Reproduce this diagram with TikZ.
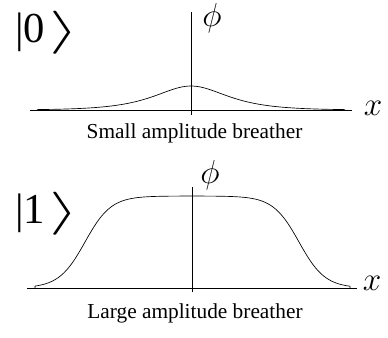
\documentclass[tikz,border=0pt]{standalone}
\usepackage{fontspec}
\setmainfont{Liberation Serif}
\usetikzlibrary{positioning}

\newcommand{\ketclose}{\hspace{3pt}\raisebox{-1pt}{\scalebox{2.3}[1.3]{$\rangle$}}}

\begin{document}
\begin{tikzpicture}[
  x=0.75pt,y=-0.75pt,
  axis/.style={line width=0.6pt},
  wave/.style={line width=0.5pt},
  ket/.style={font=\fontsize{32}{38}\selectfont,anchor=base west,inner sep=0},
  axlabel/.style={font=\fontsize{33}{40}\selectfont,inner sep=0},
  caption/.style={font=\fontsize{16}{19}\selectfont,anchor=base,inner sep=0},
  declare function={kink(\u)=tanh(max(-5,min(5,\u)));},
]
\useasboundingbox (0,0) rectangle (388,337);
% --- top: small amplitude breather ---
\coordinate (hL0) at (30,110); \coordinate (hR0) at (352,110);
\coordinate (vT0) at (191,12); \coordinate (vB0) at (191,115);
\draw[axis] (hL0) -- (hR0);
\draw[axis] (vB0) -- (vT0);
\draw[wave] plot[domain=-154:154,samples=90,smooth] ({191+\x},{110-24/cosh(0.031*\x)});
\node[ket] (k0) at (15,42) {|0\ketclose};
\node[axlabel] (phi0) at (212,18) {$\phi$};
\node[axlabel] (x0) at (373,108) {$x$};
\node[caption] (c0) at (194.5,138) {Small amplitude breather};
% --- bottom: large amplitude breather ---
\coordinate (hL1) at (27,288); \coordinate (hR1) at (357,288);
\coordinate (vT1) at (192,187); \coordinate (vB1) at (192,292);
\draw[axis] (hL1) -- (hR1);
\draw[axis] (vB1) -- (vT1);
\draw[wave] (35,288) -- plot[domain=-157:158,samples=120,smooth]
  ({192+\x},{288-46*(kink((\x+107)/26)-kink((\x-107)/26))}) -- (350,288);
\node[ket] (k1) at (15,223) {|1\ketclose};
\node[axlabel] (phi1) at (210,175) {$\phi$};
\node[axlabel] (x1) at (372,283) {$x$};
\node[caption] (c1) at (195,318) {Large amplitude breather};
\end{tikzpicture}
\end{document}
